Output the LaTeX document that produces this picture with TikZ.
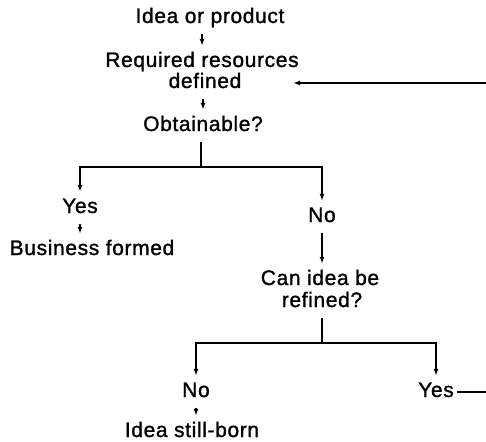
\documentclass[tikz,border=0pt]{standalone}
\usepackage{fontspec}
\setmainfont{Liberation Sans}[LetterSpace=3,FakeBold=1.2]
\usetikzlibrary{arrows.meta}
\begin{document}
\begin{tikzpicture}[x=1pt,y=-1pt,
  lbl/.style={font=\fontsize{21}{23}\selectfont, inner xsep=3pt, inner ysep=6pt, text height=15pt, text depth=4.4pt, anchor=base},
  flow/.style={line width=1.7pt},
  arr/.style={flow, -{Latex[length=7pt,width=5pt]}}]
\useasboundingbox (0,0) rectangle (486,441);
\node[lbl] (idea) at (210,23) {Idea or product};
\node[lbl] (req) at (202,67) {Required resources};
\node[lbl] (def) at (205,88) {defined};
\node[lbl] (obt) at (203,131) {Obtainable?};
\node[lbl] (yes1) at (80,213) {Yes};
\node[lbl] (bus) at (92,255) {Business formed};
\node[lbl] (no1) at (322,222) {No};
\node[lbl] (can) at (320,285) {Can idea be};
\node[lbl] (ref) at (322,307) {refined?};
\node[lbl] (no2) at (196,397) {No};
\node[lbl] (yes2) at (436,397) {Yes};
\node[lbl] (still) at (192,437) {Idea still-born};
\coordinate (j1) at (201,167);
\coordinate (j2) at (322,343);
\coordinate (rx) at (495,0);
\coordinate (ret) at (293,83);
\draw[arr] (idea.south -| req.north) -- (req.north);
\draw[arr] (def.south -| obt.north) -- (obt.north);
\draw[flow] (obt.south -| j1) -- (j1);
\draw[arr] (j1) -| (yes1.north);
\draw[arr] (j1) -| (no1.north);
\draw[arr] (yes1.south) -- (bus.north -| yes1.south);
\draw[arr] (no1.south) -- (can.north -| no1.south);
\draw[flow] (ref.south) -- (j2);
\draw[arr] (j2) -| (no2.north);
\draw[arr] (j2) -| (yes2.north);
\draw[arr] (no2.south) -- (still.north -| no2.south);
\draw[arr] (yes2.east) -- (yes2.east -| rx) -- (rx |- ret) -- (ret);
\end{tikzpicture}
\end{document}
